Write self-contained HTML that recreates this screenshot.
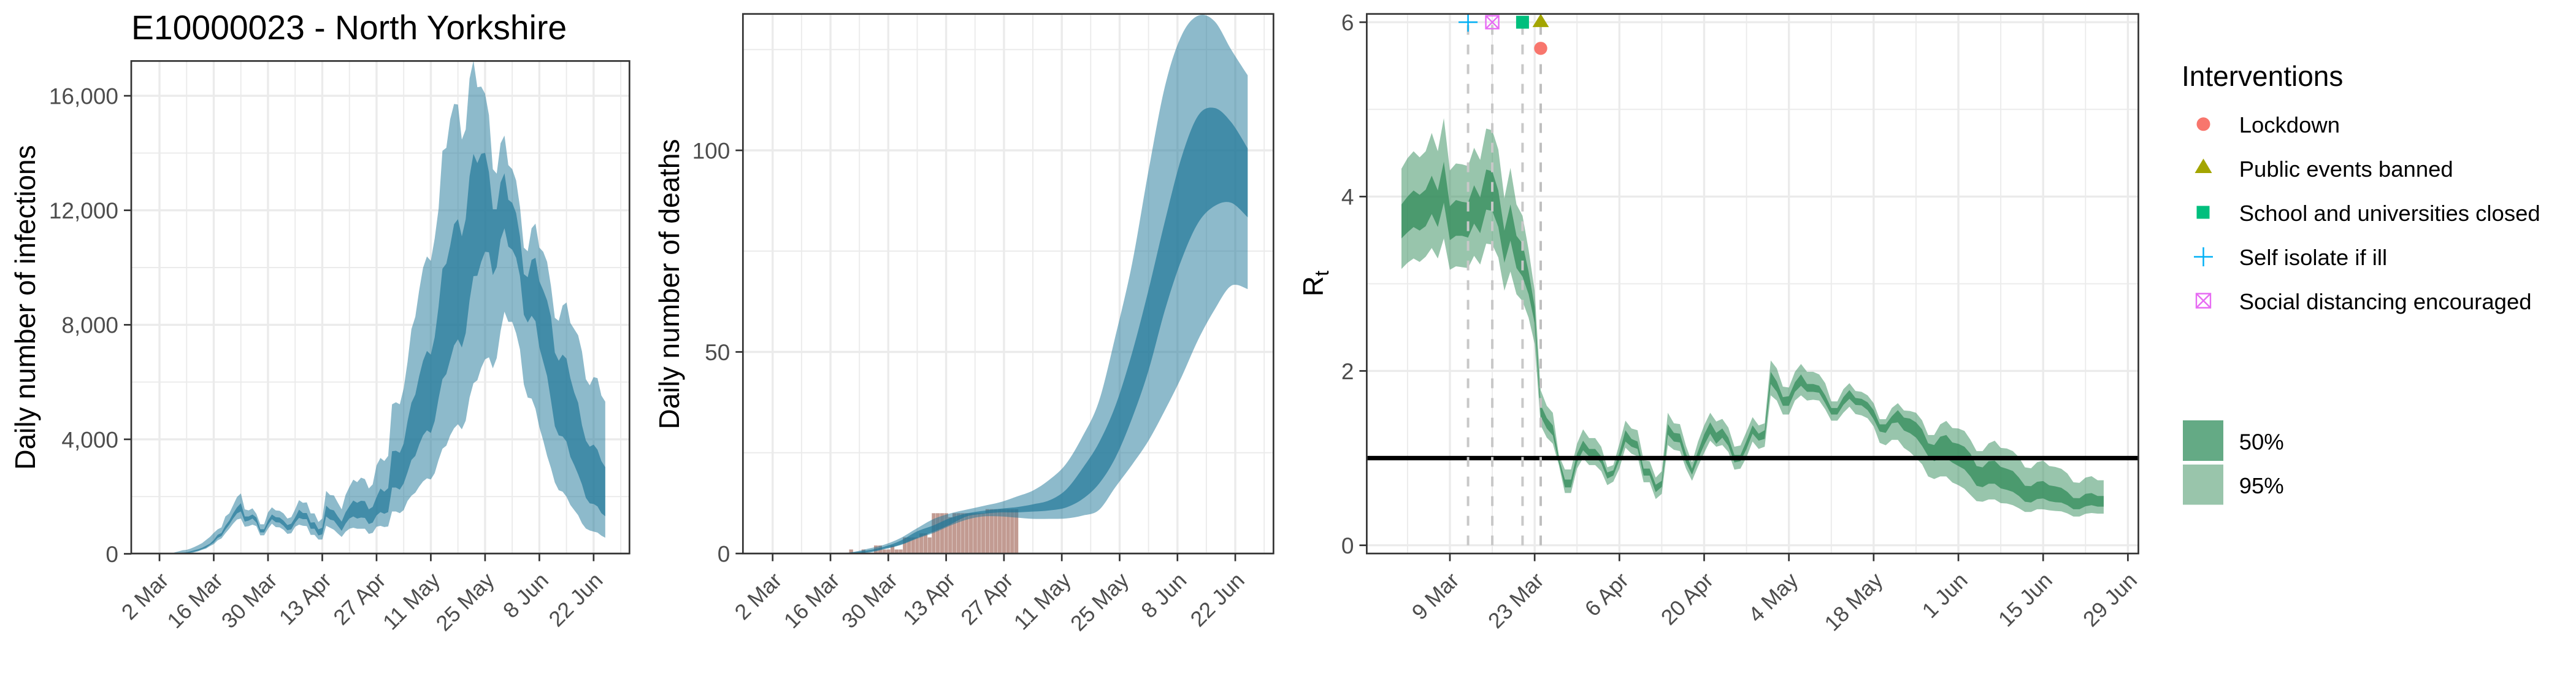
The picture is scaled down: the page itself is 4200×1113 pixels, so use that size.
<!DOCTYPE html>
<html lang="en">
<head>
<meta charset="utf-8">
<title>E10000023 - North Yorkshire</title>
<style>
html,body{margin:0;padding:0;background:#fff;width:4200px;height:1113px;overflow:hidden}
svg{display:block}
text{font-family:"Liberation Sans",Arial,sans-serif}
</style>
</head>
<body>
<svg id="figure" xmlns="http://www.w3.org/2000/svg" width="4200" height="1113" viewBox="0 0 4200 1113">
  <rect x="0" y="0" width="4200" height="1113" fill="#fff"/>
  <defs>
    <clipPath id="clip-inf"><rect x="214" y="99.4" width="812.3" height="802.6"/></clipPath>
    <clipPath id="clip-death"><rect x="1211.3" y="22.7" width="865" height="879.3"/></clipPath>
    <clipPath id="clip-rt"><rect x="2228.4" y="22.7" width="1258.1" height="879.3"/></clipPath>
  </defs>

  <text x="214" y="64" font-size="55.3" fill="#000">E10000023 - North Yorkshire</text>

  <g id="panel-infections"></g>
  <g id="panel-deaths"></g>
  <g id="panel-rt"></g>

  <text transform="translate(57 501) rotate(-90)" text-anchor="middle" font-size="46" fill="#000">Daily number of infections</text>
  <text transform="translate(1107 463) rotate(-90)" text-anchor="middle" font-size="46" fill="#000">Daily number of deaths</text>
  <text transform="translate(2157 462) rotate(-90)" text-anchor="middle" font-size="46" fill="#000">R<tspan font-size="32" dy="9">t</tspan></text>

  <g>
    <text x="3557" y="140" font-size="46" fill="#000">Interventions</text>
    <g>
      <circle cx="3592.5" cy="202.3" r="11" fill="#F8766D"/>
      <text x="3650.7" y="215.8" font-size="36.5" fill="#000">Lockdown</text>
    </g>
    <g>
      <polygon points="3592.5,258.5 3606.5,282 3578.5,282" fill="#A3A500"/>
      <text x="3650.7" y="288" font-size="36.5" fill="#000">Public events banned</text>
    </g>
    <g>
      <rect x="3581.5" y="335.5" width="21" height="21" fill="#00BF7D"/>
      <text x="3650.7" y="360" font-size="36.5" fill="#000">School and universities closed</text>
    </g>
    <g>
      <path d="M3577 418.5H3608M3592.5 403V434" stroke="#00B0F6" stroke-width="2.5" fill="none"/>
      <text x="3650.7" y="432" font-size="36.5" fill="#000">Self isolate if ill</text>
    </g>
    <g>
      <path d="M3581 478.500H3604V501.500H3581ZM3581 478.500L3604 501.500M3604 478.500L3581 501.500" stroke="#E76BF3" stroke-width="2.4" fill="none"/>
      <text x="3650.7" y="504" font-size="36.5" fill="#000">Social distancing encouraged</text>
    </g>
  </g>

  <g>
    <g>
      <rect x="3559" y="685" width="66" height="66" fill="#64AA85"/>
      <text x="3650.7" y="732.5" font-size="36.5" fill="#000">50%</text>
    </g>
    <g>
      <rect x="3559" y="757" width="66" height="65.500" fill="#99C5AB"/>
      <text x="3650.7" y="804" font-size="36.5" fill="#000">95%</text>
    </g>
  </g>
</svg>

<script>
/* All series are indexed by days since 1 March unless they carry their own day array. */
const infectionHi95 = [0,0,0,0,0,54,89,125,139,182,239,304,375,482,589,732,854,925,1304,1411,1697,1983,2111,1554,1518,1590,1397,1032,1032,1447,1625,1518,1504,1411,1232,1282,1554,1876,1783,1797,1411,1411,1111,1232,2197,2054,2040,1790,1554,2054,2340,2590,2504,2662,2611,2283,2426,3090,3350,3243,3422,5222,5294,5222,5780,6708,7852,8280,9209,9995,10388,10233,11016,12048,14078,14184,15181,15715,15694,14469,14825,16605,17230,16299,16320,16071,15324,13437,13280,14341,14612,13579,13437,13045,12120,10696,10568,11372,11536,10696,10553,10197,9352,8245,8138,8673,8780,8066,7852,7637,7066,6101,5887,6173,6137,5530,5315];
const infectionHi50 = [0,0,0,0,0,11,25,39,54,89,125,161,211,282,354,482,661,732,982,1161,1411,1625,1768,1304,1304,1375,1268,861,861,1161,1375,1282,1268,1161,1004,1054,1268,1540,1425,1425,1090,1104,854,911,1683,1554,1518,1304,1125,1447,1661,1861,1783,1854,1840,1554,1640,1983,2279,2171,2293,3586,3600,3529,3851,4637,5280,5565,6208,6744,7087,6959,7566,8638,9959,10138,10767,11514,11692,11087,11692,13188,13971,13650,13971,14006,13330,12034,12034,12975,13294,12368,12262,11906,11087,9770,9663,10268,10340,9520,9209,8852,8280,7030,6744,6959,6816,6137,5637,5280,4494,3958,3743,3815,3636,3243,3029];
const infectionLo50 = [0,0,0,0,0,4,11,18,25,46,75,111,161,211,304,397,554,625,840,1018,1232,1411,1483,1125,1161,1232,1090,747,747,1018,1211,1104,1090,982,825,854,1090,1254,1211,1211,875,875,640,682,1304,1197,1161,982,804,1054,1232,1304,1232,1268,1254,1040,1090,1340,1457,1400,1457,2314,2314,2243,2457,2850,3279,3422,3815,4136,4315,4222,4637,5422,6101,6280,6780,7280,7495,7209,7709,8852,9699,9713,10197,10553,10532,9734,10019,10980,11372,10731,10624,10340,9699,8352,8081,8316,8123,7209,6709,6208,5351,4458,4136,4101,3922,3386,3100,2779,2422,1957,1764,1743,1657,1421,1314];
const infectionLo95 = [0,0,0,0,0,0,4,11,11,25,54,89,139,182,268,339,468,539,718,875,1054,1197,1232,947,968,1018,968,647,647,875,1054,932,925,840,697,718,947,1018,982,968,661,661,497,497,982,911,840,711,589,768,875,911,875,875,875,697,732,947,978,935,957,1478,1478,1421,1528,1850,2029,2136,2350,2529,2636,2600,2815,3279,3672,3779,4136,4386,4529,4350,4651,5458,5958,6065,6494,6794,6866,6480,6837,7780,8459,8102,8102,7709,7137,5922,5458,5423,5065,4422,3958,3422,2993,2493,2221,2171,1993,1707,1528,1350,1064,885,814,778,742,635,564];

const deathDays = [16,20,24,28,32,36,40,44,48,52,56,60,64,68,72,76,80,84,88,92,96,100,104,108,112,116];
const deathHi95 = [0,0.3,1.17,2.18,3.86,6.29,8.58,9.95,10.9,11.8,12.7,14.1,15.6,18.3,22.2,29,37.8,54,71.8,95,116,128.5,133.4,132,125,118.6];
const deathHi50 = [0,0.25,0.8,1.7,3.2,5.5,7.0,8.8,9.95,10.6,11.1,11.5,12.2,13.2,15.8,21.1,27.5,36.7,49.7,65.4,82.6,98.3,108.6,110.5,107,100.5];
const deathLo50 = [0,0.05,0.3,1.17,2.2,3.86,5.4,7.2,9.2,9.85,10.2,10.2,10.4,10.7,11.4,13.5,17.3,23.8,33.5,45.4,60.5,72.9,82,86.2,87,83.4];
const deathLo95 = [0,0,0.15,1.05,2.1,3.7,5.1,6.9,8.4,9.2,9.2,8.9,8.6,8.6,8.7,9.4,10.8,16.5,22,28,35.6,43.8,53,60.5,66.4,65.6];
const reportedDeathsFirstDay = 20;
const reportedDeaths = [1,0,0,1,0,0,2,2,1,1,2,1,1,4,4,4,4,5,5,4,10,10,10,10,9,10,10,10,10,10,10,10,10,11,11,11,11,11,11,11,11];

const rtHi95 = [4.32,4.44,4.52,4.45,4.52,4.73,4.52,4.90,4.30,4.38,4.37,4.35,4.56,4.42,4.78,4.76,4.54,3.98,4.33,3.91,3.78,3.39,2.92,1.78,1.60,1.52,1.035,0.87,0.87,1.165,1.33,1.23,1.23,1.13,0.895,0.92,1.165,1.43,1.34,1.32,0.976,0.965,0.777,0.85,1.52,1.40,1.39,1.14,0.95,1.19,1.375,1.52,1.42,1.45,1.35,1.13,1.145,1.305,1.47,1.375,1.40,2.12,2.03,1.82,1.81,1.99,2.08,1.99,1.99,1.96,1.86,1.65,1.65,1.79,1.86,1.77,1.76,1.72,1.63,1.446,1.446,1.575,1.63,1.547,1.54,1.52,1.434,1.265,1.265,1.387,1.427,1.345,1.34,1.312,1.21,1.08,1.08,1.169,1.20,1.117,1.11,1.08,1.01,0.894,0.883,0.953,0.972,0.91,0.899,0.878,0.824,0.723,0.716,0.777,0.793,0.746,0.746];
const rtHi50 = [3.91,4.00,4.07,4.02,4.08,4.24,4.07,4.40,3.89,3.96,3.94,3.93,4.13,3.99,4.31,4.29,4.07,3.61,3.91,3.55,3.46,3.14,2.74,1.61,1.46,1.375,1.0,0.754,0.754,1.05,1.20,1.105,1.105,1.02,0.836,0.86,1.06,1.32,1.22,1.19,0.88,0.88,0.695,0.74,1.39,1.29,1.28,1.05,0.88,1.08,1.27,1.41,1.29,1.34,1.235,1.035,1.035,1.20,1.375,1.28,1.32,1.99,1.88,1.70,1.71,1.87,1.96,1.85,1.85,1.83,1.72,1.575,1.575,1.70,1.78,1.69,1.68,1.64,1.55,1.387,1.387,1.48,1.55,1.465,1.453,1.41,1.33,1.17,1.15,1.246,1.265,1.18,1.164,1.13,1.05,0.91,0.894,0.965,0.97,0.90,0.878,0.852,0.777,0.683,0.678,0.728,0.737,0.688,0.676,0.66,0.613,0.542,0.54,0.59,0.599,0.566,0.566];
const rtLo50 = [3.52,3.59,3.65,3.61,3.66,3.80,3.65,3.93,3.50,3.55,3.55,3.53,3.69,3.58,3.85,3.835,3.65,3.24,3.495,3.18,3.08,2.88,2.55,1.48,1.34,1.26,0.95,0.664,0.664,0.95,1.09,1.02,1.02,0.94,0.765,0.80,0.976,1.19,1.13,1.105,0.80,0.80,0.61,0.67,1.27,1.19,1.18,0.95,0.81,0.99,1.15,1.28,1.165,1.235,1.14,0.95,0.965,1.105,1.28,1.20,1.22,1.85,1.76,1.60,1.60,1.76,1.83,1.76,1.76,1.75,1.63,1.50,1.50,1.61,1.68,1.61,1.605,1.55,1.446,1.305,1.29,1.40,1.41,1.317,1.286,1.235,1.14,1.023,0.965,1.0,1.0,0.948,0.91,0.871,0.789,0.683,0.667,0.706,0.706,0.653,0.636,0.613,0.566,0.50,0.491,0.53,0.537,0.507,0.494,0.49,0.46,0.413,0.413,0.448,0.46,0.443,0.443];
const rtLo95 = [3.17,3.24,3.29,3.25,3.31,3.41,3.29,3.52,3.16,3.20,3.19,3.18,3.32,3.22,3.46,3.45,3.30,2.92,3.14,2.88,2.80,2.61,2.31,1.375,1.235,1.165,0.92,0.60,0.60,0.88,1.0,0.92,0.92,0.85,0.69,0.73,0.88,1.12,1.05,1.02,0.723,0.723,0.53,0.59,1.15,1.095,1.08,0.88,0.74,0.906,1.06,1.20,1.13,1.15,1.07,0.867,0.88,1.01,1.19,1.105,1.13,1.72,1.66,1.50,1.50,1.66,1.72,1.66,1.67,1.66,1.56,1.43,1.43,1.52,1.59,1.505,1.49,1.457,1.364,1.175,1.147,1.21,1.21,1.117,1.07,1.0,0.93,0.79,0.76,0.79,0.79,0.72,0.69,0.648,0.577,0.507,0.50,0.526,0.526,0.484,0.479,0.46,0.425,0.383,0.383,0.413,0.413,0.401,0.394,0.39,0.366,0.33,0.33,0.361,0.37,0.363,0.363];

const earlyTickDays = [1,15,29,43,57,71,85,99,113];
const earlyTickLabels = ['2 Mar','16 Mar','30 Mar','13 Apr','27 Apr','11 May','25 May','8 Jun','22 Jun'];
const earlyMinorDays = [8,22,36,50,64,78,92,106,120];
const rtTickDays = [8,22,36,50,64,78,92,106,120];
const rtTickLabels = ['9 Mar','23 Mar','6 Apr','20 Apr','4 May','18 May','1 Jun','15 Jun','29 Jun'];
const rtMinorDays = [1,15,29,43,57,71,85,99,113];

const infectionYTicks = [0,4000,8000,12000,16000];
const infectionYLabels = ['0','4,000','8,000','12,000','16,000'];
const infectionYMinor = [2000,6000,10000,14000];
const deathYTicks = [0,50,100];
const deathYLabels = ['0','50','100'];
const deathYMinor = [25,75,125];
const rtYTicks = [0,2,4,6];
const rtYLabels = ['0','2','4','6'];
const rtYMinor = [1,3,5];

const interventionNames = ['self-isolate','social-distancing','schools-closed','public-events','lockdown'];
const interventionDays = [11,15,20,23,23];
const interventionValues = [6,6,6,6,5.7];
const referenceR = 1;

const SVGNS = 'http://www.w3.org/2000/svg';

function mk(parent, tag, attrs) {
  const el = document.createElementNS(SVGNS, tag);
  for (const k in attrs) el.setAttribute(k, attrs[k]);
  parent.appendChild(el);
  return el;
}

function dailyDays(arr) { return arr.map(function (_, i) { return i; }); }

function bandPath(days, hi, lo, X, Y) {
  let d = '';
  for (let i = 0; i < days.length; i++) d += (i ? 'L' : 'M') + X(days[i]).toFixed(2) + ' ' + Y(hi[i]).toFixed(2);
  for (let i = days.length - 1; i >= 0; i--) d += 'L' + X(days[i]).toFixed(2) + ' ' + Y(lo[i]).toFixed(2);
  return d + 'Z';
}

function smoothLine(pts, move) {
  let d = (move ? 'M' : 'L') + pts[0][0].toFixed(2) + ' ' + pts[0][1].toFixed(2);
  for (let i = 0; i < pts.length - 1; i++) {
    const p0 = pts[Math.max(i - 1, 0)], p1 = pts[i], p2 = pts[i + 1], p3 = pts[Math.min(i + 2, pts.length - 1)];
    const c1x = p1[0] + (p2[0] - p0[0]) / 6, c1y = p1[1] + (p2[1] - p0[1]) / 6;
    const c2x = p2[0] - (p3[0] - p1[0]) / 6, c2y = p2[1] - (p3[1] - p1[1]) / 6;
    d += 'C' + c1x.toFixed(2) + ' ' + c1y.toFixed(2) + ' ' + c2x.toFixed(2) + ' ' + c2y.toFixed(2) + ' ' + p2[0].toFixed(2) + ' ' + p2[1].toFixed(2);
  }
  return d;
}

function smoothBandPath(days, hi, lo, X, Y) {
  const top = days.map(function (d, i) { return [X(d), Y(hi[i])]; });
  const bot = days.map(function (d, i) { return [X(d), Y(lo[i])]; }).reverse();
  return smoothLine(top, true) + smoothLine(bot, false) + 'Z';
}

function drawFrame(g, cfg) {
  const L = cfg.left, R = cfg.right, T = cfg.top, B = cfg.bottom;
  cfg.yMinor.forEach(function (v) {
    const l = mk(g, 'line', { x1: L, x2: R, y1: cfg.Y(v), y2: cfg.Y(v), stroke: '#ebebeb', 'stroke-width': 1.9 });
    
    
  });
  cfg.xMinor.forEach(function (d) {
    const l = mk(g, 'line', { x1: cfg.X(d), x2: cfg.X(d), y1: T, y2: B, stroke: '#ebebeb', 'stroke-width': 1.9 });
    
    
  });
  cfg.yTicks.forEach(function (v) {
    const l = mk(g, 'line', { x1: L, x2: R, y1: cfg.Y(v), y2: cfg.Y(v), stroke: '#ebebeb', 'stroke-width': 3.4 });
    
    
  });
  cfg.xTicks.forEach(function (d) {
    const l = mk(g, 'line', { x1: cfg.X(d), x2: cfg.X(d), y1: T, y2: B, stroke: '#ebebeb', 'stroke-width': 3.4 });
    
    
  });
}

function drawAxes(g, cfg) {
  const L = cfg.left, R = cfg.right, T = cfg.top, B = cfg.bottom;
  const border = mk(g, 'rect', { x: L, y: T, width: R - L, height: B - T, fill: 'none', stroke: '#333', 'stroke-width': 2.7 });
  
  
  cfg.yTicks.forEach(function (v, i) {
    const t = mk(g, 'line', { x1: L - 12, x2: L, y1: cfg.Y(v), y2: cfg.Y(v), stroke: '#333', 'stroke-width': 2.7 });
    
    
    const lab = mk(g, 'text', { x: L - 21, y: cfg.Y(v) + 13.4, 'text-anchor': 'end', 'font-size': 37, fill: '#4D4D4D' });
    
    
    lab.textContent = cfg.yLabels[i];
  });
  cfg.xTicks.forEach(function (d, i) {
    const x = cfg.X(d);
    const t = mk(g, 'line', { x1: x, x2: x, y1: B, y2: B + 12.5, stroke: '#333', 'stroke-width': 2.7 });
    
    
    const ax = x + 17, ay = B + 46;
    const lab = mk(g, 'text', { x: ax, y: ay, 'text-anchor': 'end', 'font-size': 35.5, fill: '#4D4D4D', transform: 'rotate(-45 ' + ax + ' ' + ay + ')' });
    
    
    lab.textContent = cfg.xLabels[i];
  });
}

/* ---------- infections ---------- */
(function () {
  const g = document.getElementById('panel-infections');
  const X = function (d) { return 253.7 + 6.32 * d; };
  const Y = function (v) { return 902.5 - 0.04665 * v; };
  const cfg = { left: 214, right: 1026.3, top: 99.4, bottom: 902, X: X, Y: Y,
    xTicks: earlyTickDays, xLabels: earlyTickLabels, xMinor: earlyMinorDays,
    yTicks: infectionYTicks, yLabels: infectionYLabels, yMinor: infectionYMinor };
  drawFrame(g, cfg);
  const days = dailyDays(infectionHi95);
  const plot = mk(g, 'g', { 'clip-path': 'url(#clip-inf)' });
  
  
  const outer = mk(plot, 'path', { d: bandPath(days, infectionHi95, infectionLo95, X, Y), fill: '#1B7597', 'fill-opacity': 0.5 });
  
  
  const inner = mk(plot, 'path', { d: bandPath(days, infectionHi50, infectionLo50, X, Y), fill: '#1B7597', 'fill-opacity': 0.66 });
  
  
  drawAxes(g, cfg);
})();

/* ---------- deaths ---------- */
(function () {
  const g = document.getElementById('panel-deaths');
  const X = function (d) { return 1253 + 6.735 * d; };
  const Y = function (v) { return 902 - 6.57 * v; };
  const cfg = { left: 1211.3, right: 2076.3, top: 22.7, bottom: 902, X: X, Y: Y,
    xTicks: earlyTickDays, xLabels: earlyTickLabels, xMinor: earlyMinorDays,
    yTicks: deathYTicks, yLabels: deathYLabels, yMinor: deathYMinor };
  drawFrame(g, cfg);
  const plot = mk(g, 'g', { 'clip-path': 'url(#clip-death)' });
  
  
  reportedDeaths.forEach(function (v, i) {
    if (!v) return;
    const d = reportedDeathsFirstDay + i;
    const bar = mk(plot, 'rect', { x: X(d) - 3.15, y: Y(v), width: 6.3, height: Y(0) - Y(v), fill: '#C29B92' });
    
    
  });
  const outer = mk(plot, 'path', { d: smoothBandPath(deathDays, deathHi95, deathLo95, X, Y), fill: '#1B7597', 'fill-opacity': 0.5 });
  
  
  const inner = mk(plot, 'path', { d: smoothBandPath(deathDays, deathHi50, deathLo50, X, Y), fill: '#1B7597', 'fill-opacity': 0.66 });
  
  
  drawAxes(g, cfg);
})();

/* ---------- Rt ---------- */
(function () {
  const g = document.getElementById('panel-rt');
  const X = function (d) { return 2285 + 9.87 * d; };
  const Y = function (v) { return 888.6 - 142.07 * v; };
  const cfg = { left: 2228.4, right: 3486.5, top: 22.7, bottom: 902, X: X, Y: Y,
    xTicks: rtTickDays, xLabels: rtTickLabels, xMinor: rtMinorDays,
    yTicks: rtYTicks, yLabels: rtYLabels, yMinor: rtYMinor };
  drawFrame(g, cfg);
  const days = dailyDays(rtHi95);
  const plot = mk(g, 'g', { 'clip-path': 'url(#clip-rt)' });
  
  
  const outer = mk(plot, 'path', { d: bandPath(days, rtHi95, rtLo95, X, Y), fill: '#318B59', 'fill-opacity': 0.5 });
  
  
  const inner = mk(plot, 'path', { d: bandPath(days, rtHi50, rtLo50, X, Y), fill: '#318B59', 'fill-opacity': 0.75 });
  
  

  const ref = mk(plot, 'line', { x1: cfg.left, x2: cfg.right, y1: Y(referenceR), y2: Y(referenceR), stroke: '#000', 'stroke-width': 7.3 });
  
  

  interventionDays.forEach(function (d, i) {
    const shared = interventionDays.filter(function (x) { return x === d; }).length;
    if (interventionDays.indexOf(d) !== i) return;
    const v = mk(plot, 'line', { x1: X(d), x2: X(d), y1: Y(0), y2: Y(6), stroke: shared > 1 ? '#bfbfbf' : '#c8c8c8', 'stroke-width': 4, 'stroke-dasharray': '16 16' });
    
    
  });

  interventionNames.forEach(function (name, i) {
    const x = X(interventionDays[i]), y = Y(interventionValues[i]);
    let m;
    if (name === 'self-isolate') {
      m = mk(plot, 'path', { d: 'M' + (x - 15.5) + ' ' + y + 'H' + (x + 15.5) + 'M' + x + ' ' + (y - 15.5) + 'V' + (y + 15.5), stroke: '#00B0F6', 'stroke-width': 2.5, fill: 'none' });
    } else if (name === 'social-distancing') {
      m = mk(plot, 'path', { d: 'M' + (x - 10.5) + ' ' + (y - 10.5) + 'h21v21h-21zl21 21m0 -21l-21 21', stroke: '#E76BF3', 'stroke-width': 2.4, fill: 'none' });
    } else if (name === 'schools-closed') {
      m = mk(plot, 'rect', { x: x - 10.5, y: y - 10.5, width: 21, height: 21, fill: '#00BF7D' });
    } else if (name === 'public-events') {
      m = mk(plot, 'polygon', { points: x + ',' + (y - 13.7) + ' ' + (x + 13.4) + ',' + (y + 8) + ' ' + (x - 13.4) + ',' + (y + 8), fill: '#A3A500' });
    } else {
      m = mk(plot, 'circle', { cx: x, cy: y, r: 10.7, fill: '#F8766D' });
    }
    
    
  });
  drawAxes(g, cfg);
})();
</script>
</body>
</html>
